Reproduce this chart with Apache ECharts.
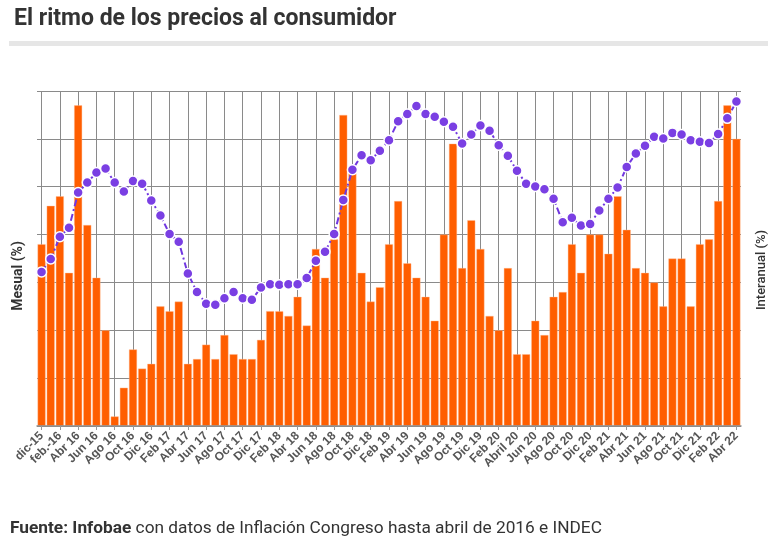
<!DOCTYPE html>
<html>
<head>
<meta charset="utf-8">
<script src="https://cdn.jsdelivr.net/npm/echarts@6/dist/echarts.min.js"></script>
<style>
html,body{margin:0;padding:0;background:#fff;}
#c{width:770px;height:551px;}
</style>
</head>
<body>
<div id="c"></div>
<script>
const categories = [
 "dic-15","Ene 16","feb.-16","Mar 16","Abr 16","May 16","Jun 16","Jul 16","Ago 16","Sep 16","Oct 16","Nov 16",
 "Dic 16","Ene 17","Feb 17","Mar 17","Abr 17","May 17","Jun 17","Jul 17","Ago 17","Sep 17","Oct 17","Nov 17",
 "Dic 17","Ene 18","Feb 18","Mar 18","Abr 18","May 18","Jun 18","Jul 18","Ago 18","Sep 18","Oct 18","Nov 18",
 "Dic 18","Ene 19","Feb 19","Mar 19","Abr 19","May 19","Jun 19","Jul 19","Ago 19","Sep 19","Oct 19","Nov 19",
 "Dic 19","Ene 20","Feb 20","Mar 20","Abril 20","May 20","Jun 20","Jul 20","Ago 20","Sep 20","Oct 20","Nov 20",
 "Dic 20","Ene 21","Feb 21","Mar 21","Abr 21","May 21","Jun 21","Jul 21","Ago 21","Sep 21","Oct 21","Nov 21",
 "Dic 21","Ene 22","Feb 22","Mar 22","Abr 22"
];
const mensual = [
 3.8,4.6,4.8,3.2,6.7,4.2,3.1,2.0,0.2,0.8,1.6,1.2,
 1.3,2.5,2.4,2.6,1.3,1.4,1.7,1.4,1.9,1.5,1.4,1.4,
 1.8,2.4,2.4,2.3,2.7,2.1,3.7,3.1,3.9,6.5,5.4,3.2,
 2.6,2.9,3.8,4.7,3.4,3.1,2.7,2.2,4.0,5.9,3.3,4.3,
 3.7,2.3,2.0,3.3,1.5,1.5,2.2,1.9,2.7,2.8,3.8,3.2,
 4.0,4.0,3.6,4.8,4.1,3.3,3.2,3.0,2.5,3.5,3.5,2.5,
 3.8,3.9,4.7,6.7,6.0
];
const interanual = [
 27.6,29.9,33.9,35.5,41.8,43.6,45.4,46.1,43.6,42.0,43.9,43.4,
 40.4,37.7,34.4,33.0,27.3,24.0,21.9,21.7,22.9,24.0,22.9,22.6,
 24.8,25.4,25.3,25.4,25.4,26.5,29.6,31.2,34.4,40.5,45.9,48.5,
 47.6,49.3,51.2,54.6,55.9,57.3,55.9,55.4,54.5,53.6,50.6,52.2,
 53.8,52.9,50.3,48.4,45.7,43.4,42.9,42.4,40.7,36.5,37.3,35.9,
 36.2,38.6,40.7,42.7,46.4,48.8,50.2,51.8,51.5,52.5,52.2,51.2,
 50.9,50.7,52.3,55.1,58.1
];

const W = 770, GL = 37, GR = 29;
const half = (W - GL - GR) / categories.length / 2;

const chart = echarts.init(document.getElementById('c'), null, {renderer:'canvas'});
chart.setOption({
  animation:false,
  backgroundColor:'#fff',
  title:{
    text:'El ritmo de los precios al consumidor',
    left:9, top:3,
    textStyle:{fontFamily:'Roboto', fontWeight:'bold', fontSize:23, color:'#333'}
  },
  graphic:[
    {type:'rect', shape:{x:9,y:41,width:759,height:5}, style:{fill:'#e6e6e6'}, silent:true},
    {type:'text', left:10, top:520, style:{
      text:'{b|Fuente: Infobae} con datos de Inflación Congreso hasta abril de 2016 e INDEC',
      rich:{b:{fontFamily:'Roboto', fontWeight:'bold', fontSize:17.3, fill:'#333'}},
      fontFamily:'Roboto', fontSize:17.3, fill:'#333'
    }},
    {type:'text', x:18, y:276, rotation:Math.PI/2, style:{
      text:'Mesual (%)', fontFamily:'Roboto', fontWeight:'bold', fontSize:14, fill:'#333',
      align:'center', verticalAlign:'middle'
    }},
    {type:'text', x:762, y:270, rotation:Math.PI/2, style:{
      text:'Interanual (%)', fontFamily:'Roboto', fontWeight:500, fontSize:13, fill:'#333',
      align:'center', verticalAlign:'middle'
    }}
  ],
  grid:[
    {left:GL, right:GR, top:91, bottom:125},
    {left:GL + half, right:GR + half, top:91, bottom:125}
  ],
  xAxis:[
    {
      type:'category', gridIndex:0,
      data:categories,
      boundaryGap:true,
      axisLine:{show:true, lineStyle:{color:'#8c8c8c', width:1.5}},
      axisTick:{show:true, interval:1, alignWithLabel:true, length:4, lineStyle:{color:'#999'}},
      axisLabel:{interval:1, rotate:45, fontFamily:'Liberation Sans', fontWeight:'bold', fontSize:12, color:'#555', margin:8},
      splitLine:{show:false},
      z:3
    },
    {
      type:'value', gridIndex:1, min:0, max:categories.length - 1, interval:2,
      axisLine:{show:false}, axisTick:{show:false}, axisLabel:{show:false},
      splitLine:{show:true, lineStyle:{color:'#8a8a8a', width:1}}
    }
  ],
  yAxis:[
    {
      type:'value', gridIndex:0, min:0, max:7, interval:1,
      axisLabel:{show:false}, axisTick:{show:false}, axisLine:{show:false},
      splitLine:{show:true, lineStyle:{color:'#8a8a8a', width:1}}
    },
    {
      type:'value', gridIndex:0, min:0, max:60,
      axisLabel:{show:false}, axisTick:{show:false}, axisLine:{show:false},
      splitLine:{show:false}
    },
    {
      type:'value', gridIndex:1, min:0, max:1, show:false
    }
  ],
  series:[
    {
      type:'bar', xAxisIndex:0, yAxisIndex:0, data:mensual,
      barCategoryGap:'12%',
      itemStyle:{color:'#ff5e00', borderColor:'rgba(255,190,150,0.8)', borderWidth:0.5}
    },
    {
      type:'line', xAxisIndex:0, yAxisIndex:1, data:interanual,
      symbol:'circle', symbolSize:10, showAllSymbol:true,
      lineStyle:{color:'#7137e0', width:2, type:[7,3,2,3]},
      itemStyle:{color:'#7a3fe3', borderColor:'#fff', borderWidth:1.5},
      z:5
    }
  ]
});
</script>
</body>
</html>
